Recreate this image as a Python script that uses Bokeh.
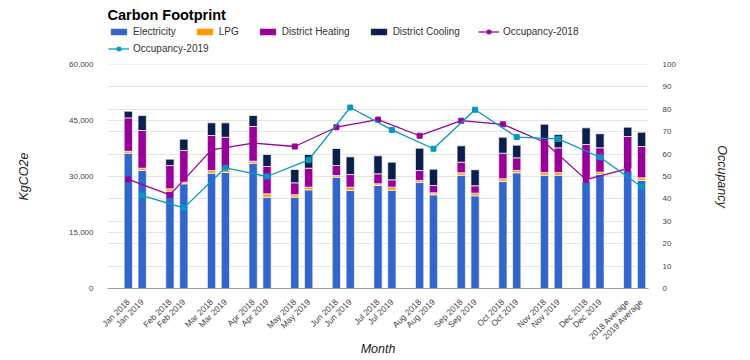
from math import pi
from bokeh.plotting import figure
from bokeh.layouts import column
from bokeh.models import (FactorRange, Range1d, LinearAxis, FixedTicker, NumeralTickFormatter,
                          Grid, Span, Legend, LegendItem, Label, ColumnDataSource)
from bokeh.embed import file_html
from bokeh.resources import INLINE

# ---------------- data ----------------
months = ["Jan", "Feb", "Mar", "Apr", "May", "Jun", "Jul", "Aug", "Sep", "Oct", "Nov", "Dec"]
labels_2018 = [f"{m} 2018" for m in months] + ["2018 Average"]
labels_2019 = [f"{m} 2019" for m in months] + ["2019 Average"]

electricity_2018 = [36250, 26060, 30890, 33560, 24460, 29820, 27590, 28390, 30350, 28660, 30350, 28750, 31610]
electricity_2019 = [31600, 28040, 31070, 24460, 26430, 26250, 26340, 25090, 24830, 30990, 30350, 30540, 28930]
lpg_2018 = [500, 640, 710, 540, 640, 450, 450, 540, 640, 710, 710, 710, 450]
lpg_2019 = [620, 450, 710, 900, 700, 890, 800, 540, 700, 620, 710, 620, 710]
heating_2018 = [8950, 6250, 9375, 9290, 3210, 2680, 2680, 2680, 2840, 6870, 8570, 9110, 8660]
heating_2019 = [10100, 8480, 8730, 7320, 5090, 3390, 1980, 1960, 1980, 3390, 6610, 6520, 8390]
cooling_2018 = [1780, 1700, 3390, 2950, 3570, 4550, 4820, 5980, 4390, 4290, 4370, 4460, 2500]
cooling_2019 = [4000, 3040, 3860, 3210, 3660, 4730, 4730, 4370, 4290, 3390, 3570, 3750, 3840]
occupancy_2018 = [48.7, 41.8, 61.9, 64.9, 63.4, 72.0, 75.4, 68.2, 74.9, 73.3, 65.3, 48.6, 53.5]
occupancy_2019 = [41.5, 36.0, 53.9, 50.0, 57.4, 80.8, 70.8, 62.4, 79.8, 67.6, 66.8, 58.6, 45.4]

left_ticks = [0, 15000, 30000, 45000, 60000]
right_ticks = [0, 10, 20, 30, 40, 50, 60, 70, 80, 90, 100]

series = ["Electricity", "LPG", "District Heating", "District Cooling"]
colors = ["#3366cc", "#ff9900", "#990099", "#0b1f4d"]
c18 = "#990099"
c19 = "#0099c6"

FONT = "Liberation Sans"

# factors: a blank slot before each pair
factors = []
for i, (a, b) in enumerate(zip(labels_2018, labels_2019)):
    factors += [" " * (i + 1), a, b]

src = ColumnDataSource(dict(
    x=labels_2018 + labels_2019,
    elec=electricity_2018 + electricity_2019,
    lpg=lpg_2018 + lpg_2019,
    heat=heating_2018 + heating_2019,
    cool=cooling_2018 + cooling_2019,
))

LEFT, RIGHT = 107, 102
W, H = 750, 360

# ================= header (title + legend) =================
TOP_H = 58
top = figure(width=W, height=TOP_H, x_range=Range1d(LEFT, W - RIGHT), y_range=Range1d(0, TOP_H),
             output_backend="svg", toolbar_location=None, title=None,
             x_axis_type=None, y_axis_type=None, min_border=0,
             min_border_left=LEFT, min_border_right=RIGHT)
top.outline_line_color = None
top.grid.visible = False

top.add_layout(Label(x=LEFT, y=TOP_H - 14, text="Carbon Footprint", text_font=FONT,
                     text_font_style="bold", text_font_size="14.5px", text_align="left",
                     text_baseline="middle", text_color="#000000"))

# legend swatch renderers: a single zero-size datum lying outside the header's range
dummy = []
for c in colors:
    dummy.append(top.vbar(x=[0], top=[0], width=1, fill_color=c, line_color="white",
                          line_width=0.7))
dl18 = top.line(x=[0, 0], y=[-5, -5], line_color=c18, line_width=1.3)
ds18 = top.scatter(x=[0], y=[-5], marker="square", size=5, fill_color=c18, line_color=c18)
dl19 = top.line(x=[0, 0], y=[-5, -5], line_color=c19, line_width=1.3)
ds19 = top.scatter(x=[0], y=[-5], marker="square", size=5, fill_color=c19, line_color=c19)

common = dict(orientation="horizontal", glyph_width=21, glyph_height=9, label_standoff=4,
              spacing=18, padding=0, margin=0, border_line_color=None, background_fill_alpha=0,
              label_text_font_size="10px", label_text_font=FONT, label_text_color="#333333",
              label_height=9)
items1 = [LegendItem(label=s, renderers=[r]) for s, r in zip(series, dummy)]
items1.append(LegendItem(label="Occupancy-2018", renderers=[dl18, ds18]))
top.add_layout(Legend(items=items1, location=(1, TOP_H - 37), **common))
top.add_layout(Legend(items=[LegendItem(label="Occupancy-2019", renderers=[dl19, ds19])],
                      location=(1, TOP_H - 54), **common))

# ================= main chart =================
p = figure(width=W, height=H - TOP_H, x_range=FactorRange(*factors, range_padding=0),
           y_range=Range1d(0, 60000), output_backend="svg", toolbar_location=None, title=None,
           min_border_left=LEFT, min_border_right=RIGHT, min_border_top=64 - TOP_H,
           min_border_bottom=72)
p.outline_line_color = None
p.background_fill_color = "white"

p.yaxis.ticker = FixedTicker(ticks=left_ticks)
p.yaxis.formatter = NumeralTickFormatter(format="0,0")
p.extra_y_ranges = {"occ": Range1d(0, 100)}
raxis = LinearAxis(y_range_name="occ", ticker=FixedTicker(ticks=right_ticks))
p.add_layout(raxis, "right")

for ax in [p.yaxis[0], raxis]:
    ax.axis_line_color = None
    ax.major_tick_line_color = None
    ax.minor_tick_line_color = None
    ax.major_label_standoff = 8
    ax.major_label_text_font_size = "8px"
    ax.major_label_text_color = "#444444"
    ax.major_label_text_font = FONT
    ax.axis_label_text_font = FONT
    ax.axis_label_text_font_style = "italic"
    ax.axis_label_text_font_size = "12.5px"
    ax.axis_label_text_color = "#222222"

p.yaxis[0].axis_label = "KgCO2e"
p.yaxis[0].axis_label_standoff = 35
raxis.axis_label = "Occupancy"
raxis.axis_label_standoff = 36

xa = p.xaxis[0]
xa.axis_line_color = "#a0a0a0"
xa.major_tick_line_color = None
xa.minor_tick_line_color = None
xa.major_label_orientation = pi / 4
xa.major_label_text_font_size = "8.5px"
xa.major_label_text_color = "#444444"
xa.major_label_text_font = FONT
xa.major_label_standoff = 6
xa.axis_label = "Month"
xa.axis_label_standoff = -6
xa.axis_label_text_font = FONT
xa.axis_label_text_font_style = "italic"
xa.axis_label_text_font_size = "12.5px"
xa.axis_label_text_color = "#222222"

p.xgrid.grid_line_color = None
p.ygrid.ticker = FixedTicker(ticks=left_ticks)
p.ygrid.grid_line_color = "#e4e4e4"
p.add_layout(Grid(dimension=1, ticker=FixedTicker(ticks=right_ticks), y_range_name="occ",
                  grid_line_color="#e4e4e4"))
p.add_layout(Span(location=60000, dimension="width", line_color="#e4e4e4", line_width=1))

bars = p.vbar_stack(["elec", "lpg", "heat", "cool"], x="x", width=0.6, color=colors,
                    line_color="white", line_width=0.7, source=src)

p.line(labels_2018, occupancy_2018, y_range_name="occ", line_color=c18, line_width=1.3)
p.scatter(labels_2018, occupancy_2018, y_range_name="occ", marker="square", size=5,
          fill_color=c18, line_color=c18)
p.line(labels_2019, occupancy_2019, y_range_name="occ", line_color=c19, line_width=1.3)
p.scatter(labels_2019, occupancy_2019, y_range_name="occ", marker="square", size=5,
          fill_color=c19, line_color=c19)

layout = column(top, p, spacing=0)
open("out.html", "w").write(file_html(layout, INLINE))
